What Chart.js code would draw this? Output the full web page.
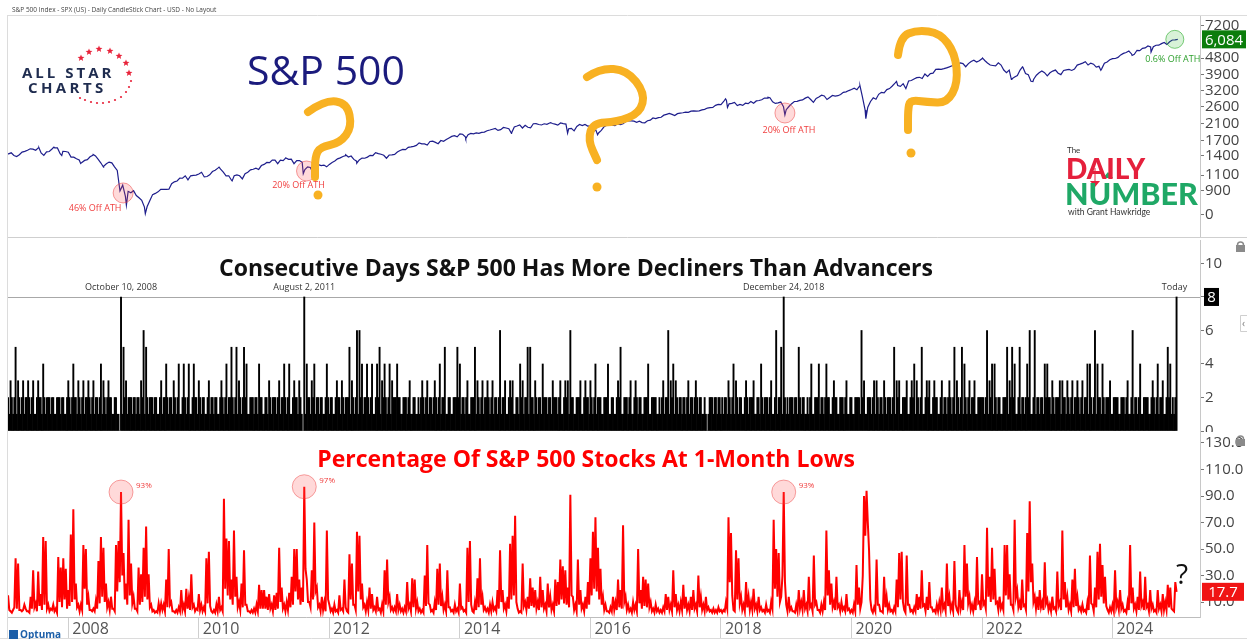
<!DOCTYPE html>
<html>
<head>
<meta charset="utf-8">
<script src="https://cdn.jsdelivr.net/npm/chart.js@4.4.1/dist/chart.umd.min.js"></script>
<style>
  body { margin: 0; background: #fff; }
  #wrap { position: relative; width: 1247px; height: 639px; overflow: hidden; background: #fff; font-family: 'Open Sans', sans-serif; }
  canvas { position: absolute; left: 0; }
  .txt { position: absolute; white-space: nowrap; line-height: 1; }
</style>
</head>
<body>
<div id="wrap">
  <canvas id="spx" width="1247" height="242" style="top:5px"></canvas>
  <canvas id="streak" width="1247" height="211" style="top:230px"></canvas>
  <canvas id="lows" width="1247" height="217" style="top:422px"></canvas>
  <canvas id="deco" width="1247" height="639" style="top:0"></canvas>

  <div class="txt" style="left:12px;top:7px;font-size:6.5px;color:#444">S&amp;P 500 Index - SPX (US) - Daily CandleStick Chart - USD - No Layout</div>
  <div class="txt" style="left:247px;top:49px;font-size:41px;color:#1b1b7d">S&amp;P 500</div>
  <div class="txt" style="left:22px;top:65px;font-size:15px;font-weight:700;letter-spacing:3px;color:#1f2c4f">ALL STAR</div>
  <div class="txt" style="left:28px;top:80px;font-size:15px;font-weight:700;letter-spacing:3.4px;color:#1f2c4f">CHARTS</div>
  <div class="txt" style="left:1067px;top:146px;font-size:8px;font-family:Lato;color:#333">The</div>
  <div class="txt" style="left:1066px;top:154px;font-size:28px;font-weight:900;font-family:Lato;color:#e5203c">DAILY</div>
  <div class="txt" style="left:1065px;top:178px;font-size:30.5px;font-weight:900;font-family:Lato;color:#1fa866">NUMBER</div>
  <div class="txt" style="left:1068px;top:208px;font-size:8.5px;font-family:Lato;color:#333">with Grant Hawkridge</div>
  <div class="txt" style="left:576px;top:256px;transform:translateX(-50%);font-size:23px;font-weight:700;color:#111">Consecutive Days S&amp;P 500 Has More Decliners Than Advancers</div>
  <div class="txt" style="left:586px;top:447px;transform:translateX(-50%);font-size:23px;font-weight:700;color:#ff0000">Percentage Of S&amp;P 500 Stocks At 1-Month Lows</div>
  <div class="txt" style="left:1176px;top:559px;font-size:28px;color:#111">?</div>
  <div class="txt" style="left:20px;top:629px;font-size:10px;font-weight:700;color:#1d5fa8">Optuma</div>
</div>
<script>
// x positions are decimal years
const X_MIN = 2007.076;
const X_MAX = 2025.34;
const FIRST_YEAR = 2007;

// S&P 500 month-end closes, Jan 2007 .. Dec 2024
const spxMonthEnd = [
  1438, 1407, 1421, 1482, 1531, 1503, 1455, 1474, 1527, 1549, 1481, 1468,
  1379, 1331, 1323, 1386, 1400, 1280, 1267, 1283, 1166, 969, 896, 903,
  826, 735, 798, 873, 919, 919, 987, 1021, 1057, 1036, 1096, 1115,
  1074, 1104, 1169, 1187, 1089, 1031, 1102, 1049, 1141, 1183, 1181, 1258,
  1286, 1327, 1326, 1364, 1345, 1321, 1292, 1219, 1131, 1253, 1247, 1258,
  1312, 1366, 1408, 1398, 1310, 1362, 1379, 1407, 1441, 1412, 1416, 1426,
  1498, 1515, 1569, 1598, 1631, 1606, 1686, 1633, 1682, 1757, 1806, 1848,
  1783, 1859, 1872, 1884, 1924, 1960, 1931, 2003, 1972, 2018, 2068, 2059,
  1995, 2105, 2068, 2086, 2107, 2063, 2104, 1972, 1920, 2079, 2080, 2044,
  1940, 1932, 2060, 2065, 2097, 2099, 2174, 2171, 2168, 2126, 2199, 2239,
  2279, 2364, 2363, 2384, 2412, 2423, 2470, 2472, 2519, 2575, 2648, 2674,
  2824, 2714, 2641, 2648, 2705, 2718, 2816, 2902, 2914, 2712, 2760, 2507,
  2704, 2784, 2834, 2946, 2752, 2942, 2980, 2926, 2977, 3038, 3141, 3231,
  3226, 2954, 2585, 2912, 3044, 3100, 3271, 3500, 3363, 3270, 3622, 3756,
  3714, 3811, 3973, 4181, 4204, 4298, 4395, 4523, 4308, 4605, 4567, 4766,
  4516, 4374, 4530, 4132, 4132, 3785, 4130, 3955, 3586, 3872, 4080, 3840,
  4077, 3970, 4109, 4169, 4180, 4450, 4589, 4508, 4288, 4194, 4568, 4770,
  4846, 5096, 5254, 5036, 5278, 5460, 5522, 5648, 5762, 5705, 6032, 6084
];
// S&P 500 mid-month levels, Jan 2007 .. Dec 2024
const spxMidMonth = [
  1430, 1456, 1388, 1470, 1505, 1525, 1550, 1410, 1480, 1550, 1440, 1480,
  1380, 1350, 1290, 1335, 1410, 1340, 1230, 1295, 1220, 900, 840, 880,
  850, 800, 740, 860, 890, 920, 920, 1010, 1060, 1090, 1090, 1100,
  1140, 1080, 1150, 1200, 1140, 1090, 1090, 1090, 1120, 1175, 1200, 1240,
  1290, 1330, 1270, 1320, 1340, 1270, 1320, 1180, 1210, 1220, 1240, 1220,
  1290, 1350, 1390, 1380, 1340, 1330, 1360, 1410, 1460, 1430, 1360, 1420,
  1470, 1520, 1560, 1580, 1650, 1630, 1680, 1660, 1700, 1720, 1790, 1780,
  1840, 1830, 1850, 1860, 1890, 1940, 1980, 1950, 1990, 1870, 2040, 1990,
  2010, 2100, 2080, 2100, 2120, 2090, 2120, 2090, 1980, 2030, 2050, 2040,
  1900, 1870, 2020, 2080, 2050, 2080, 2160, 2180, 2140, 2130, 2180, 2260,
  2270, 2340, 2390, 2330, 2400, 2430, 2460, 2460, 2500, 2560, 2580, 2680,
  2780, 2700, 2750, 2680, 2720, 2780, 2800, 2840, 2900, 2770, 2730, 2600,
  2610, 2780, 2820, 2900, 2850, 2890, 3010, 2850, 3000, 2990, 3120, 3190,
  3290, 3380, 2500, 2780, 2860, 3120, 3230, 3380, 3400, 3480, 3600, 3690,
  3770, 3930, 3950, 4170, 4170, 4250, 4360, 4470, 4480, 4480, 4680, 4650,
  4660, 4400, 4350, 4400, 4000, 3700, 3860, 4290, 3900, 3680, 3990, 4000,
  3990, 4130, 3900, 4140, 4110, 4400, 4510, 4400, 4450, 4330, 4500, 4700,
  4780, 5000, 5150, 5060, 5300, 5430, 5600, 5540, 5650, 5850, 5900, 6050
];
// intra-month swing highs / lows
const spxSwingDates = [2007.55, 2007.78, 2007.90, 2008.19, 2008.38, 2008.54, 2008.89,
  2009.18, 2010.31, 2010.51, 2011.33, 2011.60, 2011.76, 2012.25, 2012.42, 2014.09, 2014.79, 2015.39,
  2015.65, 2016.11, 2018.07, 2018.10, 2018.72, 2018.98, 2020.13, 2020.22, 2020.69, 2022.01, 2022.45,
  2022.62, 2022.78, 2023.82, 2024.30, 2024.59];
const spxSwingValues = [1553, 1565, 1407, 1273, 1426, 1214, 752,
  677, 1217, 1022, 1361, 1120, 1099, 1419, 1278, 1741, 1862, 2131,
  1867, 1829, 2873, 2581, 2931, 2351, 3386, 2237, 3580, 4797, 3667,
  4305, 3577, 4117, 4967, 5186];
const spxTickValues = [666, 900, 1100, 1400, 1700, 2100, 2600, 3200, 3900, 4800, 7200];
const spxTickLabels = ['0', '900', '1100', '1400', '1700', '2100', '2600', '3200', '3900', '4800', '7200'];

// consecutive days with more decliners than advancers, 52 samples per year 2007..2024
const STREAK_PER_YEAR = 52;
const declinerStreak = [
  0,0,0,0,2,1,3,2,1,2,5,1,3,2,1,2,3,1,2,2,3,2,1,2,3,1,1,2,3,2,2,1,4,2,1,2,2,2,1,2,2,1,1,2,2,2,1,2,2,1,1,2,
  3,2,1,2,4,2,2,1,3,2,1,2,3,1,2,2,3,2,1,2,3,1,2,2,1,2,4,1,3,2,1,2,3,2,2,1,1,2,2,1,1,0,8,1,5,2,3,1,2,2,2,1,
  2,2,1,2,2,1,3,2,6,1,5,2,1,2,2,2,1,2,2,1,1,2,3,1,2,2,4,2,1,2,2,1,3,2,1,2,4,1,1,2,4,2,1,2,4,1,1,2,4,2,2,1,
  3,2,1,2,2,1,1,2,3,1,2,2,1,2,2,1,1,2,3,2,1,2,4,1,2,2,5,2,1,2,5,1,3,2,1,2,5,2,4,1,1,2,2,2,1,2,2,1,4,2,2,1,
  1,2,2,1,3,2,1,2,2,2,1,2,3,1,2,2,4,2,1,2,4,1,1,2,3,2,2,1,3,2,1,0,8,1,4,2,2,1,3,2,4,1,2,2,1,2,2,1,1,2,4,2,
  1,2,2,1,1,2,3,2,2,1,3,2,1,2,2,2,5,1,3,2,1,2,6,1,6,2,4,1,2,2,4,2,1,2,4,1,1,2,4,2,5,1,3,2,4,2,1,2,4,1,3,2,
  2,2,4,2,2,1,1,2,2,2,1,2,3,1,1,2,2,1,1,2,1,2,3,2,1,2,3,1,2,2,1,2,3,2,1,2,4,1,2,2,5,1,1,2,2,1,1,2,2,2,5,2,
  4,1,2,2,1,2,3,1,1,2,2,2,5,1,3,2,1,2,3,1,2,2,3,2,1,2,3,1,2,2,1,2,6,1,2,2,3,1,1,2,3,2,3,1,1,2,2,1,4,2,3,1,
  2,2,5,1,5,2,2,1,3,2,1,2,2,1,4,2,2,2,1,2,2,1,3,2,2,2,1,2,3,1,1,2,3,2,3,1,6,2,2,1,1,2,2,2,3,1,1,2,3,2,2,1,
  3,2,1,2,4,1,2,2,2,1,1,2,2,2,4,1,1,2,2,1,1,2,3,2,5,1,1,2,2,2,1,2,3,1,1,2,3,2,1,2,2,1,1,2,2,2,4,1,1,2,2,2,
  2,1,1,2,1,2,3,1,2,2,6,1,3,2,4,1,3,2,1,2,2,1,2,2,1,2,3,1,2,2,1,2,3,2,1,2,2,1,1,2,1,0,1,2,2,2,1,2,2,1,2,2,
  1,2,1,2,2,1,3,2,1,2,4,1,3,2,1,2,2,1,1,2,3,2,1,2,2,2,3,1,1,2,2,1,4,2,1,2,2,2,1,2,3,1,1,2,6,1,2,2,5,1,8,2,
  1,2,1,2,2,2,1,2,2,1,5,2,1,2,2,1,1,2,1,2,4,1,1,2,2,2,4,1,2,2,1,2,4,2,2,1,1,2,3,2,2,1,1,2,2,2,1,2,3,1,1,2,
  2,1,1,2,2,2,2,1,6,2,3,1,1,2,2,2,1,2,3,1,3,2,1,2,2,1,3,2,1,2,2,2,1,2,5,1,3,2,3,1,1,2,2,2,3,1,1,2,3,2,4,1,
  3,2,1,2,5,1,1,2,3,2,3,1,1,2,3,2,2,1,1,2,3,1,2,2,1,2,3,2,1,2,5,1,3,2,1,2,5,1,4,2,1,2,3,1,2,2,3,1,1,2,2,2,
  2,2,1,2,6,1,3,2,4,1,4,2,1,2,2,1,1,2,2,2,5,1,3,2,5,2,4,1,1,2,5,1,2,2,1,2,4,2,6,1,1,2,6,1,2,2,1,2,2,1,4,2,
  4,2,2,1,3,2,1,2,2,2,3,1,3,2,2,1,3,2,1,2,3,1,2,2,3,2,1,2,3,1,2,2,4,1,4,2,1,2,6,1,4,2,2,1,4,2,1,2,2,2,3,1,
  1,2,2,2,2,1,1,2,2,2,1,2,3,1,1,2,6,1,2,2,1,2,4,1,1,2,2,2,2,1,1,2,3,2,1,2,4,1,2,2,3,1,1,2,5,2,4,1,2,1,2,8
];
const streakTickValues = [0, 2, 4, 6, 8, 10];

// percentage of S&P 500 stocks at 1-month lows, 52 samples per year 2007..2024
const LOWS_PER_YEAR = 52;
const pctAtMonthLow = [
  4,3,4,2,15,4,3,2,4,6,43,5,39,4,4,3,4,8,5,3,3,2,14,5,34,6,9,3,33,7,16,4,59,8,56,5,8,3,5,4,8,3,5,2,44,10,36,6,43,12,35,5,
  19,7,61,10,80,12,24,6,8,3,8,4,53,20,50,8,14,4,4,3,5,3,11,5,41,9,59,14,51,10,24,6,10,4,14,5,5,3,53,18,56,25,93,30,47,12,24,8,72,15,39,9,
  14,5,5,3,36,8,31,10,51,14,67,12,31,6,8,3,4,2,3,2,9,3,9,4,8,3,27,6,50,8,10,3,3,2,4,2,6,3,19,4,8,3,20,5,13,4,31,6,8,3,5,4,
  16,4,8,3,6,3,43,9,48,7,3,2,4,2,8,3,14,4,6,3,88,20,58,15,56,12,27,8,64,14,29,6,10,4,24,6,49,8,8,3,3,2,4,2,5,2,8,3,23,5,19,5,
  19,5,14,4,16,5,8,3,15,4,17,5,51,10,21,5,8,3,10,4,17,6,29,8,50,18,50,12,27,8,21,10,97,35,27,10,10,6,34,12,70,18,21,6,8,3,14,4,10,3,64,12,
  8,3,5,2,8,3,4,2,15,4,5,3,27,6,3,2,46,12,39,8,8,4,63,18,60,12,24,6,8,3,10,4,21,5,16,4,6,3,14,4,5,2,8,3,34,8,42,10,14,4,6,3,
  6,3,16,4,8,3,5,2,6,3,25,5,8,3,28,6,27,5,10,3,5,2,4,2,30,7,53,9,8,3,4,2,10,4,35,8,39,7,14,4,8,3,34,6,6,3,4,2,8,3,5,2,
  24,5,6,3,4,2,51,10,56,8,3,2,10,4,28,6,43,8,14,4,6,3,5,2,8,3,10,4,6,3,19,5,49,10,19,5,8,3,14,5,54,12,60,15,75,10,5,2,3,2,39,7,
  10,4,14,5,28,7,21,6,19,5,10,4,29,6,19,5,8,3,24,6,14,4,8,3,27,7,25,8,42,12,37,9,34,8,21,6,91,15,14,4,8,3,42,8,19,5,8,3,14,5,25,8,
  43,15,63,20,74,18,51,12,35,8,14,4,8,3,3,2,6,3,14,4,10,4,27,6,19,5,68,10,14,4,8,3,5,2,10,4,8,3,50,9,19,5,29,7,27,6,24,6,10,3,5,2,
  8,3,5,2,4,2,6,3,16,4,14,4,8,3,34,6,16,4,8,3,10,4,23,5,14,4,8,3,14,4,19,5,8,3,30,6,14,4,8,3,14,4,6,3,4,2,5,2,4,2,6,3,
  4,2,4,3,10,5,74,25,62,15,4,3,49,12,43,9,14,4,8,3,25,6,14,4,10,4,20,5,8,3,14,4,6,3,4,2,8,3,4,2,10,5,72,20,50,14,47,10,14,30,93,25,
  8,3,14,4,6,3,3,2,8,3,19,5,10,4,19,5,8,3,29,6,8,3,45,8,10,4,4,2,8,3,10,4,64,15,34,8,24,6,10,4,29,6,8,3,10,4,6,3,16,4,5,2,
  4,2,8,3,38,8,21,5,10,30,90,60,94,70,49,12,4,2,6,3,42,8,8,3,3,2,29,6,14,4,8,3,4,2,6,3,27,6,47,12,48,10,4,2,45,8,8,3,4,2,6,3,
  16,4,14,5,34,7,8,3,14,4,25,6,6,3,4,2,8,3,10,4,21,5,8,3,39,7,14,4,8,3,41,8,4,2,19,5,10,4,53,14,39,9,14,4,8,3,10,4,44,9,10,4,
  31,8,10,5,66,14,29,10,51,12,35,9,10,4,14,5,8,4,53,15,53,12,31,8,8,4,72,14,19,6,10,4,27,7,8,4,62,18,86,25,39,10,14,5,14,4,19,6,10,4,40,9,
  12,4,8,3,14,5,6,3,33,7,10,4,64,12,25,6,14,4,8,3,27,6,35,7,14,4,6,3,8,3,4,2,10,4,45,9,8,3,21,6,48,12,54,14,38,9,29,7,4,2,6,3,
  8,3,34,6,10,4,19,5,8,3,4,2,10,4,53,9,21,5,8,3,14,4,33,7,10,4,29,6,8,3,19,5,8,3,4,2,19,5,8,3,16,4,10,4,23,6,21,5,4,3,25,17.7
];
const pctTickValues = [10, 30, 50, 70, 90, 110, 130];
const yearTicks = [2008, 2010, 2012, 2014, 2016, 2018, 2020, 2022, 2024];

// annotations
const athYears = [2008.84, 2011.65, 2018.98];
const athValues = [878, 1158, 2405];
const athLabels = ['46% Off ATH', '20% Off ATH', '20% Off ATH'];
const streakNoteYears = [2008 + 42 / 52, 2011 + 32 / 52, 2018 + 50 / 52, 2024 + 51 / 52];
const streakNoteLabels = ['October 10, 2008', 'August 2, 2011', 'December 24, 2018', 'Today'];
const peakYears = [2008 + 42 / 52, 2011 + 32 / 52, 2018 + 50 / 52];
const peakValues = [93, 97, 93];
const peakLabels = ['93%', '97%', '93%'];

const spxPoints = spxMonthEnd.map((v, i) => ({ x: FIRST_YEAR + (i + 1) / 12, y: v }))
  .concat(spxMidMonth.map((v, i) => ({ x: FIRST_YEAR + (i + 0.5) / 12, y: v })))
  .concat(spxSwingDates.map((d, i) => ({ x: d, y: spxSwingValues[i] })))
  .sort((a, b) => a.x - b.x);
const streakPoints = declinerStreak.map((v, i) => ({ x: FIRST_YEAR + i / STREAK_PER_YEAR, y: v }));
const pctPoints = pctAtMonthLow.map((v, i) => ({ x: FIRST_YEAR + i / LOWS_PER_YEAR, y: v }));

const tickFont = { family: 'Open Sans', size: 15 };

function valueTag(ctx, text, x, y, w, fill) {
  ctx.fillStyle = fill;
  ctx.fillRect(x, y - 9, w, 18);
  ctx.fillStyle = '#fff';
  ctx.font = "15px 'Open Sans'";
  ctx.textAlign = 'center';
  ctx.textBaseline = 'middle';
  ctx.fillText(text, x + w / 2, y + 1);
}

function ring(ctx, x, y, r, fill, stroke) {
  ctx.beginPath();
  ctx.arc(x, y, r, 0, Math.PI * 2);
  ctx.fillStyle = fill;
  ctx.fill();
  ctx.lineWidth = 1;
  ctx.strokeStyle = stroke;
  ctx.stroke();
}

function yAxis(extra) {
  return Object.assign({
    position: 'right',
    afterFit: s => { s.width = 47; },
    ticks: { color: '#444', font: tickFont, padding: 1, autoSkip: false },
    grid: { drawOnChartArea: false, tickLength: 4, color: '#777' },
    border: { color: '#c8c8c8' }
  }, extra);
}

const baseOptions = {
  responsive: false,
  animation: false,
  events: [],
  plugins: { legend: { display: false }, tooltip: { enabled: false } }
};

// S&P 500 panel
const spxNotes = {
  id: 'spxNotes',
  afterDatasetsDraw(chart) {
    const { ctx, scales: { x, y } } = chart;
    ctx.save();
    ctx.font = "9px 'Open Sans'";
    ctx.textAlign = 'center';
    ctx.textBaseline = 'middle';
    const dx = [-28, -8, 4], dy = [15, 14, 17];
    athYears.forEach((yr, i) => {
      const px = x.getPixelForValue(yr), py = y.getPixelForValue(athValues[i]);
      ring(ctx, px, py, 10, 'rgba(255,70,70,0.2)', 'rgba(235,60,60,0.5)');
      ctx.fillStyle = '#f04040';
      ctx.fillText(athLabels[i], px + dx[i], py + dy[i]);
    });
    const last = spxPoints[spxPoints.length - 1];
    const gx = x.getPixelForValue(last.x) - 3, gy = y.getPixelForValue(last.y);
    ring(ctx, gx, gy, 9, 'rgba(60,190,60,0.2)', 'rgba(40,170,40,0.6)');
    ctx.fillStyle = '#2ea02e';
    ctx.fillText('0.6% Off ATH', gx - 2, gy + 20);
    valueTag(ctx, last.y.toLocaleString('en-US'), 1202, gy, 44, '#0b7d0b');
    ctx.restore();
  }
};

new Chart(document.getElementById('spx'), {
  type: 'line',
  data: { datasets: [{ data: spxPoints, borderColor: '#1e1e8c', borderWidth: 1.2, pointRadius: 0, tension: 0 }] },
  options: Object.assign({}, baseOptions, {
    layout: { padding: { top: 10, bottom: 10, left: 8, right: 0 } },
    scales: {
      x: { type: 'linear', display: false, min: X_MIN, max: X_MAX },
      y: yAxis({
        type: 'logarithmic', min: 504, max: 8268,
        afterBuildTicks: s => { s.ticks = spxTickValues.map(v => ({ value: v })); },
        ticks: { color: '#444', font: tickFont, padding: 1, autoSkip: false, callback: (v, i) => spxTickLabels[i] }
      })
    }
  }),
  plugins: [spxNotes]
});

// consecutive decliners panel
const streakNotes = {
  id: 'streakNotes',
  beforeDatasetsDraw(chart) {
    const { ctx, chartArea, scales: { y } } = chart;
    const ly = Math.round(y.getPixelForValue(8)) + 0.5;
    ctx.save();
    ctx.strokeStyle = '#a8a8a8';
    ctx.lineWidth = 1;
    ctx.beginPath();
    ctx.moveTo(chartArea.left, ly);
    ctx.lineTo(chartArea.right, ly);
    ctx.stroke();
    ctx.restore();
  },
  afterDatasetsDraw(chart) {
    const { ctx, scales: { x, y } } = chart;
    const ly = y.getPixelForValue(8);
    ctx.save();
    ctx.font = "9px 'Open Sans'";
    ctx.fillStyle = '#333';
    ctx.textAlign = 'center';
    ctx.textBaseline = 'middle';
    streakNoteYears.forEach((yr, i) => {
      ctx.fillText(streakNoteLabels[i], x.getPixelForValue(yr) - (i === 3 ? 2 : 0), ly - 10);
    });
    valueTag(ctx, String(declinerStreak[declinerStreak.length - 1]), 1204, ly, 15, '#000');
    ctx.restore();
  }
};

new Chart(document.getElementById('streak'), {
  type: 'bar',
  data: { datasets: [{ data: streakPoints, backgroundColor: '#000', borderWidth: 0, barPercentage: 1, categoryPercentage: 1, grouped: false }] },
  options: Object.assign({}, baseOptions, {
    layout: { padding: { top: 10, bottom: 10, left: 8, right: 0 } },
    scales: {
      x: { type: 'linear', display: false, offset: false, min: X_MIN, max: X_MAX },
      y: yAxis({
        min: 0, max: 11.4,
        afterBuildTicks: s => { s.ticks = streakTickValues.map(v => ({ value: v })); }
      })
    }
  }),
  plugins: [streakNotes]
});

// % at 1-month lows panel
const lowsNotes = {
  id: 'lowsNotes',
  beforeDraw(chart) {
    const { ctx, width, height } = chart;
    ctx.save();
    ctx.fillStyle = '#fff';
    ctx.fillRect(0, 10, width, height - 10);
    ctx.restore();
  },
  afterDatasetsDraw(chart) {
    const { ctx, scales: { x, y } } = chart;
    ctx.save();
    ctx.font = "8px 'Open Sans'";
    ctx.textAlign = 'left';
    ctx.textBaseline = 'middle';
    peakYears.forEach((yr, i) => {
      const px = x.getPixelForValue(yr), py = y.getPixelForValue(peakValues[i]);
      ring(ctx, px, py, 12, 'rgba(255,80,80,0.22)', 'rgba(235,60,60,0.45)');
      ctx.fillStyle = '#f03a3a';
      ctx.fillText(peakLabels[i], px + 15, py - 6);
    });
    const lastV = pctAtMonthLow[pctAtMonthLow.length - 1];
    valueTag(ctx, lastV.toFixed(1), 1202, y.getPixelForValue(lastV), 42, '#f01414');
    ctx.restore();
  }
};

new Chart(document.getElementById('lows'), {
  type: 'line',
  data: { datasets: [{ data: pctPoints, borderColor: '#ff0000', borderWidth: 2, pointRadius: 0, tension: 0 }] },
  options: Object.assign({}, baseOptions, {
    layout: { padding: { top: 10, bottom: 0, left: 8, right: 0 } },
    scales: {
      x: {
        type: 'linear', min: X_MIN, max: X_MAX,
        afterBuildTicks: s => { s.ticks = yearTicks.map(v => ({ value: v })); },
        afterFit: s => { s.height = 22; },
        ticks: { callback: v => String(v), align: 'start', labelOffset: 4, padding: -19, color: '#555', font: { family: 'Open Sans', size: 16 }, autoSkip: false, maxRotation: 0 },
        grid: { drawOnChartArea: false, tickLength: 22, color: '#cfcfcf' },
        border: { color: '#bdbdbd' }
      },
      y: yAxis({
        min: -1.3, max: 138.3,
        afterBuildTicks: s => { s.ticks = pctTickValues.map(v => ({ value: v })); },
        ticks: { color: '#444', font: tickFont, padding: 1, autoSkip: false, callback: v => v.toFixed(1) }
      })
    }
  }),
  plugins: [lowsNotes]
});

// decorations: frame, hand-drawn question marks, logos, icons
const deco = document.getElementById('deco').getContext('2d');

function line(x1, y1, x2, y2, color) {
  deco.strokeStyle = color;
  deco.lineWidth = 1;
  deco.beginPath();
  deco.moveTo(x1, y1);
  deco.lineTo(x2, y2);
  deco.stroke();
}
line(8, 15.5, 1247, 15.5, '#dcdcdc');
line(7.5, 15, 7.5, 639, '#dcdcdc');
line(8, 237.5, 1247, 237.5, '#cfcfcf');
line(0, 638.5, 1247, 638.5, '#dcdcdc');

function smoothStroke(pts) {
  deco.beginPath();
  deco.moveTo(pts[0][0], pts[0][1]);
  for (let i = 1; i < pts.length - 1; i++) {
    const mx = (pts[i][0] + pts[i + 1][0]) / 2, my = (pts[i][1] + pts[i + 1][1]) / 2;
    deco.quadraticCurveTo(pts[i][0], pts[i][1], mx, my);
  }
  const end = pts[pts.length - 1];
  deco.lineTo(end[0], end[1]);
  deco.stroke();
}
const questionMarks = [
  { stroke: [[308,112],[325,100],[347,103],[352,127],[340,143],[320,147],[315,157],[315,177]], dot: [318,195] },
  { stroke: [[587,77],[600,68],[627,70],[645,93],[640,113],[617,122],[593,123],[588,140],[597,160]], dot: [597,187] },
  { stroke: [[898,55],[900,37],[917,30],[940,33],[955,53],[958,83],[947,103],[927,102],[910,100],[908,110],[908,130]], dot: [911,153] }
];
deco.strokeStyle = '#f8b122';
deco.fillStyle = '#f8b122';
deco.lineWidth = 8;
deco.lineCap = 'round';
deco.lineJoin = 'round';
questionMarks.forEach(q => {
  smoothStroke(q.stroke);
  deco.beginPath();
  deco.arc(q.dot[0], q.dot[1], 4.5, 0, Math.PI * 2);
  deco.fill();
});

function star(cx, cy, r) {
  deco.beginPath();
  for (let k = 0; k < 10; k++) {
    const rr = k % 2 ? r * 0.45 : r;
    const a = -Math.PI / 2 + k * Math.PI / 5;
    deco.lineTo(cx + rr * Math.cos(a), cy + rr * Math.sin(a));
  }
  deco.closePath();
  deco.fill();
}
deco.fillStyle = '#e8233a';
[[81,58],[89,52],[99,49],[110,51],[119,56],[126,63],[129,73]].forEach(p => star(p[0], p[1], 3.6));
[[131,81],[129,87],[126,92],[121,97],[115,100],[109,102],[103,103],[97,103],[91,102],[85,100],[80,98]].forEach(p => {
  deco.beginPath();
  deco.arc(p[0], p[1], 1.1, 0, Math.PI * 2);
  deco.fill();
});

// daily number arrows
deco.lineWidth = 2.5;
deco.lineCap = 'butt';
line(1095, 168, 1095, 182, '#e5203c');
deco.fillStyle = '#e5203c';
deco.beginPath(); deco.moveTo(1090, 181); deco.lineTo(1100, 181); deco.lineTo(1095, 187); deco.fill();
deco.fillStyle = '#1fa866';
deco.beginPath(); deco.moveTo(1103, 178); deco.lineTo(1113, 178); deco.lineTo(1108, 172); deco.fill();

// lock icons and side tab
function lock(x, y) {
  deco.fillStyle = '#8a8a8a';
  deco.fillRect(x, y + 4, 9, 7);
  deco.strokeStyle = '#8a8a8a';
  deco.lineWidth = 1.5;
  deco.beginPath();
  deco.arc(x + 4.5, y + 4, 3, Math.PI, 0);
  deco.stroke();
}
lock(1236, 241);
lock(1236, 435);
deco.strokeStyle = '#cfcfcf';
deco.lineWidth = 1;
deco.strokeRect(1240.5, 315.5, 8, 16);
deco.fillStyle = '#777';
deco.font = "10px 'Open Sans'";
deco.fillText('‹', 1242, 327);

// optuma badge
deco.fillStyle = '#1d5fa8';
deco.fillRect(9, 630, 9, 9);
</script>
</body>
</html>
